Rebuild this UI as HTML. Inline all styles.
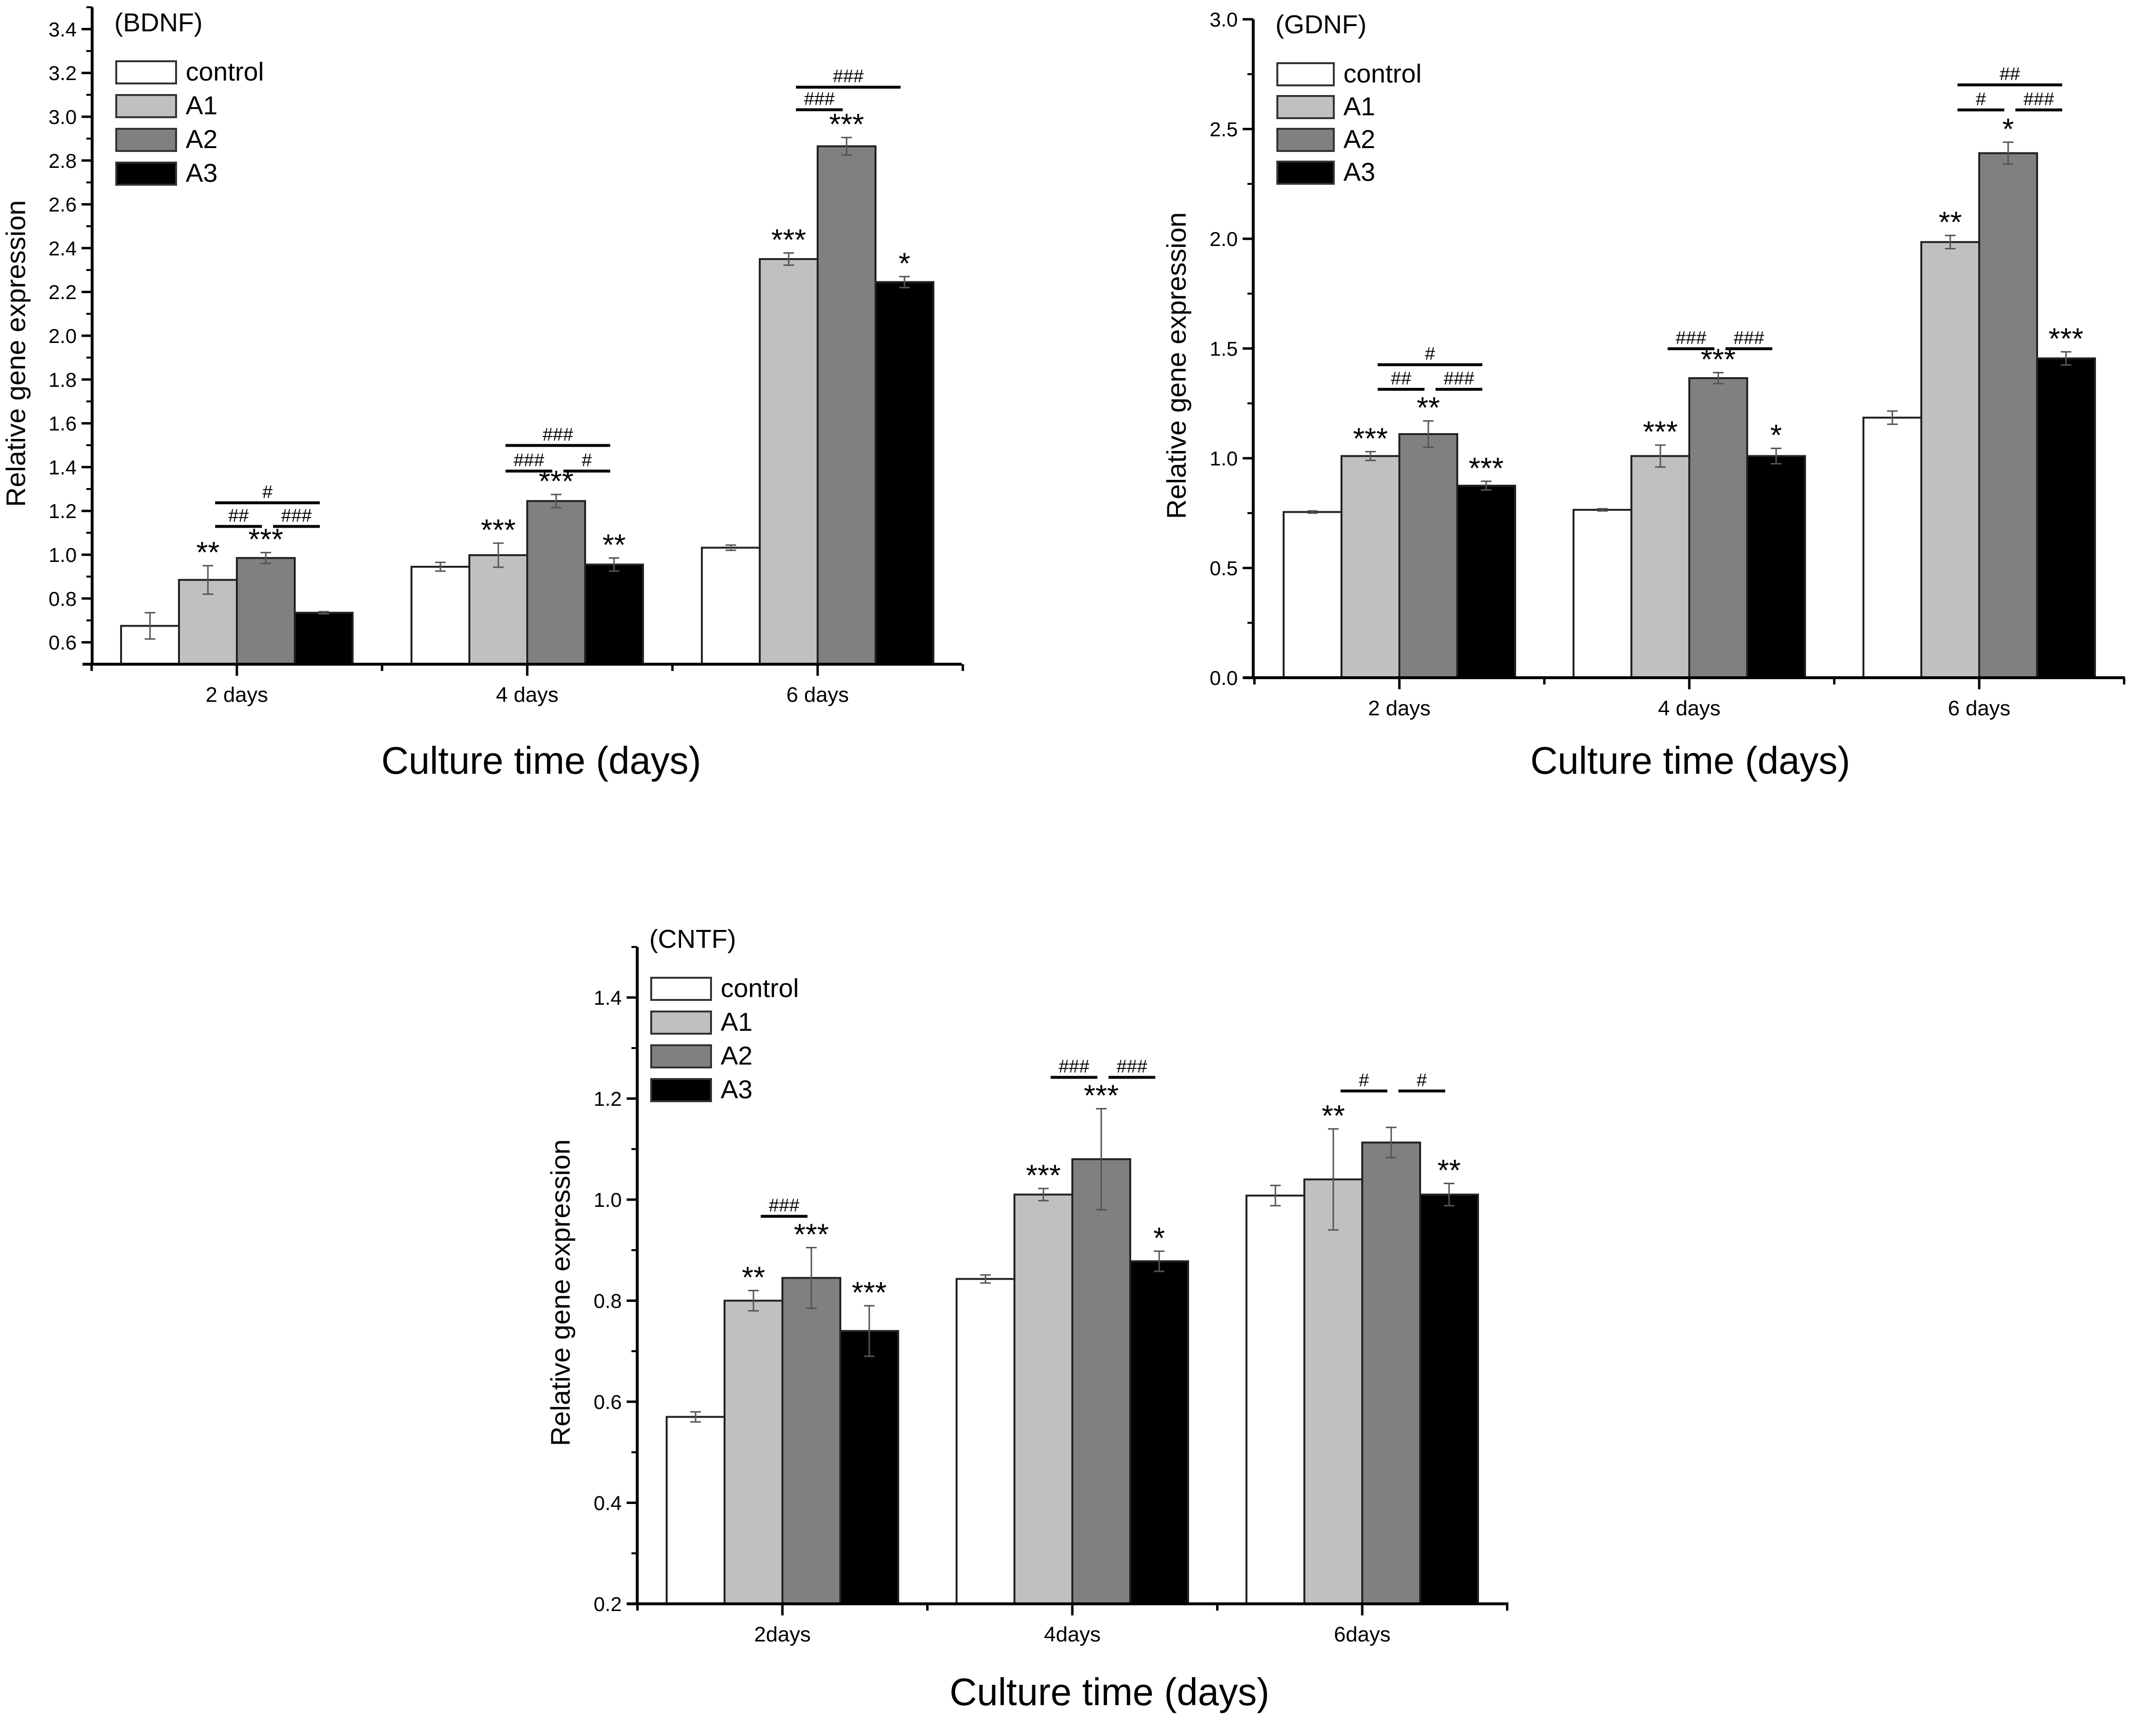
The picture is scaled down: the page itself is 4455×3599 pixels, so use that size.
<!DOCTYPE html>
<html><head><meta charset="utf-8"><style>
html,body{margin:0;padding:0;background:#fff;}
svg{display:block;font-family:"Liberation Sans",Arial,sans-serif;}
</style></head><body>
<svg id="fig" width="4455" height="3599" viewBox="0 0 4455 3599" xmlns="http://www.w3.org/2000/svg"></svg>
<script>
// ---------- data ----------
const seriesNames = ["control","A1","A2","A3"];
const seriesFills = ["#ffffff","#c0c0c0","#808080","#000000"];

const bdnfCategories = ["2 days","4 days","6 days"];
const bdnfControl = [0.675, 0.945, 1.032];
const bdnfA1 = [0.885, 0.998, 2.35];
const bdnfA2 = [0.985, 1.245, 2.865];
const bdnfA3 = [0.735, 0.955, 2.245];
const bdnfErrControl = [0.06, 0.02, 0.012];
const bdnfErrA1 = [0.065, 0.055, 0.028];
const bdnfErrA2 = [0.025, 0.03, 0.04];
const bdnfErrA3 = [0.005, 0.03, 0.025];
const bdnfStars = [["","**","***",""],["","***","***","**"],["","***","***","*"]];
const bdnfBrackets = [[0,1,3,1.237,"#"],[0,1,2,1.129,"##"],[0,2,3,1.129,"###"],[1,1,3,1.499,"###"],[1,1,2,1.382,"###"],[1,2,3,1.382,"#"],[2,1,3,3.135,"###"],[2,1,2,3.032,"###"]];
const bdnfTicks = ["0.6","0.8","1.0","1.2","1.4","1.6","1.8","2.0","2.2","2.4","2.6","2.8","3.0","3.2","3.4"];

const gdnfCategories = ["2 days","4 days","6 days"];
const gdnfControl = [0.755, 0.765, 1.185];
const gdnfA1 = [1.01, 1.01, 1.985];
const gdnfA2 = [1.11, 1.365, 2.39];
const gdnfA3 = [0.875, 1.01, 1.455];
const gdnfErrControl = [0.005, 0.005, 0.03];
const gdnfErrA1 = [0.02, 0.05, 0.03];
const gdnfErrA2 = [0.06, 0.025, 0.05];
const gdnfErrA3 = [0.02, 0.035, 0.03];
const gdnfStars = [["","***","**","***"],["","***","***","*"],["","**","*","***"]];
const gdnfBrackets = [[0,1,3,1.426,"#"],[0,1,2,1.314,"##"],[0,2,3,1.314,"###"],[1,1,2,1.499,"###"],[1,2,3,1.499,"###"],[2,1,3,2.701,"##"],[2,1,2,2.587,"#"],[2,2,3,2.587,"###"]];
const gdnfTicks = ["0.0","0.5","1.0","1.5","2.0","2.5","3.0"];

const cntfCategories = ["2days","4days","6days"];
const cntfControl = [0.57, 0.843, 1.008];
const cntfA1 = [0.80, 1.01, 1.04];
const cntfA2 = [0.845, 1.08, 1.113];
const cntfA3 = [0.74, 0.878, 1.01];
const cntfErrControl = [0.01, 0.008, 0.02];
const cntfErrA1 = [0.02, 0.012, 0.1];
const cntfErrA2 = [0.06, 0.1, 0.03];
const cntfErrA3 = [0.05, 0.02, 0.022];
const cntfStars = [["","**","***","***"],["","***","***","*"],["","**","","**"]];
const cntfBrackets = [[0,1,2,0.967,"###"],[1,1,2,1.242,"###"],[1,2,3,1.242,"###"],[2,1,2,1.215,"#"],[2,2,3,1.215,"#"]];
const cntfTicks = ["0.2","0.4","0.6","0.8","1.0","1.2","1.4"];

// ---------- drawing ----------
const NS="http://www.w3.org/2000/svg";
const svg=document.getElementById("fig");
function mk(tag,attrs,parent){const e=document.createElementNS(NS,tag);for(const k in attrs)e.setAttribute(k,attrs[k]);(parent||svg).appendChild(e);return e;}

function drawChart(c){
  const g=mk("g",{});
  
  
  const y=v=>c.y0-(v-c.vmin)*c.ppu;
  const xc=i=>c.gx0+i*c.gsp;
  const barX=(i,s)=>xc(i)-240+s*120;
  const axisY=y(c.vmin);
  // bars + errors
  c.vals.forEach((arr,s)=>{
    arr.forEach((v,i)=>{
      const r=mk("rect",{x:barX(i,s),y:y(v),width:120,height:axisY-y(v),fill:seriesFills[s],stroke:"#222","stroke-width":4},g);
      
      
      const cx=barX(i,s)+60, e=c.errs[s][i];
      const eg=mk("g",{stroke:"#555","stroke-width":3},g);
      
      
      mk("line",{x1:cx,x2:cx,y1:y(v+e),y2:y(v-e)},eg);
      mk("line",{x1:cx-11,x2:cx+11,y1:y(v+e),y2:y(v+e)},eg);
      mk("line",{x1:cx-11,x2:cx+11,y1:y(v-e),y2:y(v-e)},eg);
      const st=c.stars[i][s];
      if(st){
        const t=mk("text",{x:cx,y:y(v+e)-6,"font-size":62,"text-anchor":"middle",fill:"#000"},g);
        t.textContent=st;
        
        
      }
    });
  });
  // brackets
  c.brackets.forEach(b=>{
    const x1=barX(b[0],b[1])+60+15, x2=barX(b[0],b[2])+60-8, yy=y(b[3]);
    const l=mk("line",{x1:x1,x2:x2,y1:yy,y2:yy,stroke:"#000","stroke-width":6},g);
    
    
    const t=mk("text",{x:(x1+x2)/2,y:yy-10,"font-size":38,"text-anchor":"middle",fill:"#000"},g);
    t.textContent=b[4];
    
    
  });
  // axes
  const ax=mk("g",{stroke:"#000","stroke-width":6,fill:"none"},g);
  
  
  mk("line",{x1:c.ax,x2:c.ax,y1:y(c.vmax),y2:axisY+3},ax);
  mk("line",{x1:c.ax-20,x2:c.xend,y1:axisY,y2:axisY},ax);
  // y ticks
  for(let k=0;;k++){
    const v=c.vmin+k*c.minor; if(v>c.vmax+1e-9)break;
    mk("line",{x1:c.ax-12,x2:c.ax,y1:y(v),y2:y(v),"stroke-width":4},ax);
  }
  c.ticks.forEach(tl=>{
    const v=parseFloat(tl);
    mk("line",{x1:c.ax-22,x2:c.ax,y1:y(v),y2:y(v),"stroke-width":5},ax);
    const t=mk("text",{x:c.ax-32,y:y(v)+15,"font-size":42,"text-anchor":"end",fill:"#000"},g);
    t.textContent=tl;
    
    
  });
  // x ticks
  for(let i=0;i<=3;i++){
    const xs=c.gx0-c.gsp/2+i*c.gsp;
    mk("line",{x1:xs,x2:xs,y1:axisY,y2:axisY+14,"stroke-width":5},ax);
  }
  c.cats.forEach((cat,i)=>{
    mk("line",{x1:xc(i),x2:xc(i),y1:axisY,y2:axisY+24,"stroke-width":5},ax);
    const t=mk("text",{x:xc(i),y:axisY+78,"font-size":44,"text-anchor":"middle",fill:"#000"},g);
    t.textContent=cat;
    
    
  });
  // titles
  const xt=mk("text",{x:c.xtX,y:c.xtY,"font-size":80,"text-anchor":"middle",fill:"#000",textLength:663,lengthAdjust:"spacingAndGlyphs"},g);
  xt.textContent="Culture time (days)";
  
  
  const yt=mk("text",{x:0,y:0,"font-size":56,"text-anchor":"middle",fill:"#000",transform:`translate(${c.ytX},${c.ytY}) rotate(-90)`,textLength:636,lengthAdjust:"spacingAndGlyphs"},g);
  yt.textContent="Relative gene expression";
  
  
  // panel label + legend
  const pl=mk("text",{x:c.lx-4,y:c.ly0-62,"font-size":54,fill:"#000"},g);
  pl.textContent=c.label;
  
  
  seriesNames.forEach((n,s)=>{
    const lg=mk("g",{},g);
    
    
    const yy=c.ly0+s*c.lpitch;
    mk("rect",{x:c.lx,y:yy,width:c.lw,height:46,fill:seriesFills[s],stroke:"#333","stroke-width":4},lg);
    const t=mk("text",{x:c.lx+c.lw+20,y:yy+40,"font-size":54,fill:"#000"},lg);
    t.textContent=n;
  });
}

drawChart({id:"bdnf",label:"(BDNF)",cats:bdnfCategories,
  vals:[bdnfControl,bdnfA1,bdnfA2,bdnfA3],errs:[bdnfErrControl,bdnfErrA1,bdnfErrA2,bdnfErrA3],
  stars:bdnfStars,brackets:bdnfBrackets,ticks:bdnfTicks,
  vmin:0.5,vmax:3.5,minor:0.1,y0:1377,ppu:454,ax:191,xend:1994,gx0:491,gsp:602,
  xtX:1122,xtY:1604,ytX:52,ytY:733,lx:241,ly0:127,lw:124,lpitch:70});
drawChart({id:"gdnf",label:"(GDNF)",cats:gdnfCategories,
  vals:[gdnfControl,gdnfA1,gdnfA2,gdnfA3],errs:[gdnfErrControl,gdnfErrA1,gdnfErrA2,gdnfErrA3],
  stars:gdnfStars,brackets:gdnfBrackets,ticks:gdnfTicks,
  vmin:0,vmax:3.0,minor:0.25,y0:1405,ppu:455,ax:2598,xend:4405,gx0:2901,gsp:601,
  xtX:3504,xtY:1604,ytX:2458,ytY:758,lx:2648,ly0:131,lw:117,lpitch:68});
drawChart({id:"cntf",label:"(CNTF)",cats:cntfCategories,
  vals:[cntfControl,cntfA1,cntfA2,cntfA3],errs:[cntfErrControl,cntfErrA1,cntfErrA2,cntfErrA3],
  stars:cntfStars,brackets:cntfBrackets,ticks:cntfTicks,
  vmin:0.2,vmax:1.5,minor:0.1,y0:3325,ppu:1047.5,ax:1321,xend:3127,gx0:1622,gsp:601,
  xtX:2300,xtY:3535,ytX:1181,ytY:2680,lx:1350,ly0:2027,lw:124,lpitch:70});
</script>
</body></html>
